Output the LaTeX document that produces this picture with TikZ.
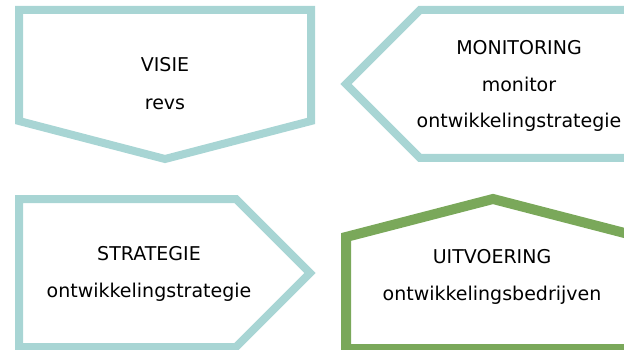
\documentclass[tikz,border=0pt]{standalone}
\usepackage{fontspec}
\setmainfont{DejaVu Sans}
\definecolor{tealc}{RGB}{168,213,212}
\definecolor{greenc}{RGB}{122,168,90}
\begin{document}
\begin{tikzpicture}[x=1pt,y=-1pt,
  tealshape/.style={draw=tealc,line width=8pt,line join=miter},
  greenshape/.style={draw=greenc,line width=10pt,line join=miter},
  lbl/.style={anchor=base,inner sep=0pt,font=\fontsize{19}{22}\selectfont}]
\useasboundingbox (0,0) rectangle (624,350);
\begin{scope}
\clip (0,0) rectangle (624,350);
% VISIE
\draw[tealshape] (19,10) -- (311,10) -- (311,121) -- (165,159) -- (19,121) -- cycle;
% MONITORING
\draw[tealshape] (640,10) -- (420,10) -- (346,84) -- (420,158) -- (640,158);
% STRATEGIE
\draw[tealshape] (19,199) -- (236,199) -- (310,273) -- (236,347) -- (19,347) -- cycle;
% UITVOERING
\draw[greenshape] (640,349) -- (346,349) -- (346,237) -- (493,199) -- (640,237);
\end{scope}
\node[lbl] (v1) at (165,72) {VISIE};
\node[lbl] (v2) at (165,110) {revs};
\node[lbl] (m1) at (519,55) {MONITORING};
\node[lbl] (m2) at (519,92) {monitor};
\node[lbl] (m3) at (519,128) {ontwikkelingstrategie};
\node[lbl] (s1) at (149,260) {STRATEGIE};
\node[lbl] (s2) at (149,297) {ontwikkelingstrategie};
\node[lbl] (u1) at (492,263) {UITVOERING};
\node[lbl] (u2) at (492,300) {ontwikkelingsbedrijven};
\end{tikzpicture}
\end{document}
